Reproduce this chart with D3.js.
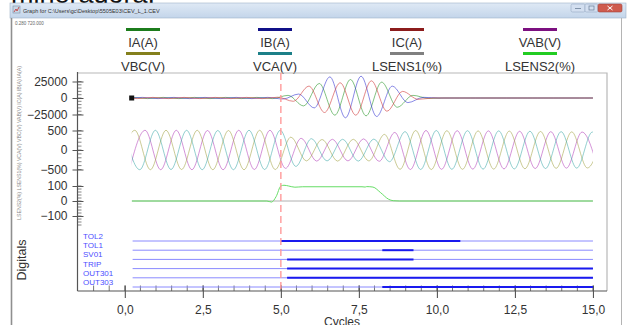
<!DOCTYPE html>
<html><head><meta charset="utf-8">
<script src="https://cdn.jsdelivr.net/npm/d3@7"></script>
<style>body{margin:0;background:#fff;overflow:hidden}svg{display:block;font-family:"Liberation Sans",Arial,sans-serif}</style>
</head><body><svg id="c" width="628" height="325"></svg>
<script>
// ---------------- data ----------------
const legendLabels = ["IA(A)", "IB(A)", "IC(A)", "VAB(V)", "VBC(V)", "VCA(V)", "LSENS1(%)", "LSENS2(%)"];
const xTickValues = [0, 2.5, 5, 7.5, 10, 12.5, 15];
const currentTicks = [25000, 0, -25000];
const voltageTicks = [500, 0, -500];
const sensTicks = [100, 0, -100];
const eventTime = 5.0;
const recordStart = 0.22;
const recordEnd = 15;
const halfCycle = 0.5;

// currents: successive half-cycle extremum values (A), first one at the start time
const iaStart = -0.27;
const ia = [-900, 900, -900, 900, -900, 900, -900, 900, -900, 900, -900,
  4000, -12000, 22000, -26000, 28000, -27000, 24000, -14000, 4000, -500,
  0, 0, 0, 0, 0, 0, 0, 0, 0, 0, 0];
const ibStart = 0.07;
const ib = [-900, 900, -900, 900, -900, 900, -900, 900, -900, 900,
  -1500, 6000, -15000, 32000, -30000, 33000, -28000, 18000, -7000, 1000,
  0, 0, 0, 0, 0, 0, 0, 0, 0, 0, 0, 0];
const icStart = -0.1;
const ic = [900, -900, 900, -900, 900, -900, 900, -900, 900, -900,
  1200, -5000, 18000, -22000, 23000, -26000, 26000, -20000, 10000, -2000,
  0, 0, 0, 0, 0, 0, 0, 0, 0, 0, 0, 0];

// voltages: successive half-cycle extremum values (V)
const vabStart = 0.15;
const vab = [-500, 505, -505, 505, -505, 500, -505, 505, -500, 505,
  -470, 300, -285, 275, -280, 285, -290, 450, -500, 500, -495, 495,
  -490, 490, -485, 480, -475, 470, -465, 460, -455];
const vbcStart = -0.18;
const vbc = [-500, 505, -505, 505, -500, 505, -505, 500, -505, 505, -500,
  330, -280, 270, -285, 275, -280, 400, -495, 500, -500, 495, -495,
  490, -490, 485, -480, 475, -470, 465, -460, 455];
const vcaStart = -0.02;
const vca = [505, -505, 505, -500, 505, -505, 500, -505, 505, -500, 505,
  -420, 290, -280, 275, -285, 280, -300, 470, -500, 500, -495, 495,
  -490, 490, -485, 480, -475, 470, -465, 460, -455];

// sensitivities (%)
const lsens1T = [0.22, 15];
const lsens1V = [0, 0];
const lsens2T = [0.22, 4.55, 4.7, 4.85, 5.0, 5.1, 5.25, 5.45, 5.7, 7.6, 7.7, 7.75, 7.95, 8.2, 8.45, 8.6, 8.8, 15];
const lsens2V = [0, 0, -7, 30, 100, 105, 100, 92, 95, 95, 93, 96, 93, 55, 12, 2, 0, 0];

// digitals: active intervals in cycles
const digitalNames = ["TOL2", "TOL1", "SV01", "TRIP", "OUT301", "OUT303"];
const digitalOn = [[[5.0, 10.75]], [[8.25, 9.25]], [[5.2, 9.25]], [[5.2, 15]], [[5.2, 15]], [[8.25, 15]]];

// ---------------- styles ----------------
const legendColors = ["#1c7c1c", "#101088", "#8c1c1c", "#7c1080", "#84801c", "#1c8088", "#808080", "#22cc22"];
const traceColors = {IA: "#2e9a2e", IB: "#2a2ad0", IC: "#d03a3a", VAB: "#b03cb8", VBC: "#a0a040", VCA: "#3aa8a8", L1: "#b0b0b0", L2: "#66dd66"};

// ---------------- drawing ----------------
const svg = d3.select("#c");
const pL = 77.5, pR = 607, pT = 73, pB = 291;
const x = d3.scaleLinear().domain([-1.5, 15.45]).range([pL + 0.5, pR]);
const yI = d3.scaleLinear().domain([-25000, 25000]).range([114.5, 81.5]);
const yV = d3.scaleLinear().domain([-500, 500]).range([169.5, 130.5]);
const yL = d3.scaleLinear().domain([-100, 100]).range([216, 186]);
const yD = d3.scalePoint().domain(digitalNames).range([241, 287]);

// page title remnant
svg.append("text").attr("x", 11).attr("y", 3).attr("font-size", 27).attr("fill", "#111").text("mineradora.");

// window chrome
const defs = svg.append("defs");
const g1 = defs.append("linearGradient").attr("id", "tb").attr("x1", 0).attr("y1", 0).attr("x2", 0).attr("y2", 1);
g1.append("stop").attr("offset", 0).attr("stop-color", "#dfe9f5");
g1.append("stop").attr("offset", 1).attr("stop-color", "#c3d5ea");
svg.append("rect").attr("x", 10).attr("y", 3).attr("width", 616).attr("height", 15).attr("fill", "url(#tb)").attr("stroke", "#9fb2c8").attr("stroke-width", 0.6);
svg.append("rect").attr("x", 13).attr("y", 6).attr("width", 7).attr("height", 7).attr("fill", "#c9d7e6").attr("stroke", "#7890a8").attr("stroke-width", 0.6);
svg.append("path").attr("d", "M14,12 L16,9 L17,11 L19,7").attr("fill", "none").attr("stroke", "#c03030").attr("stroke-width", 0.8);
svg.append("text").attr("x", 23).attr("y", 12.5).attr("font-size", 5.5).attr("fill", "#333").text("Graph for C:\\Users\\gc\\Desktop\\5505E03\\CEV_L_1.CEV");
svg.append("rect").attr("x", 571).attr("y", 4).attr("width", 14).attr("height", 8).attr("rx", 1.5).attr("fill", "#d3dff0").attr("stroke", "#95a9c2").attr("stroke-width", 0.6);
svg.append("rect").attr("x", 585).attr("y", 4).attr("width", 13).attr("height", 8).attr("rx", 1.5).attr("fill", "#d3dff0").attr("stroke", "#95a9c2").attr("stroke-width", 0.6);
svg.append("rect").attr("x", 598).attr("y", 4).attr("width", 24).attr("height", 8).attr("rx", 1.5).attr("fill", "#cf5b4e").attr("stroke", "#a0453c").attr("stroke-width", 0.6);
svg.append("path").attr("d", "M575,8.5h6").attr("stroke", "#6c7f98").attr("stroke-width", 0.8);
svg.append("rect").attr("x", 589).attr("y", 6).attr("width", 5).attr("height", 4).attr("fill", "none").attr("stroke", "#6c7f98").attr("stroke-width", 0.7);
svg.append("path").attr("d", "M607.5,6l5,4M612.5,6l-5,4").attr("stroke", "#fff").attr("stroke-width", 1);
svg.append("line").attr("x1", 11.5).attr("x2", 11.5).attr("y1", 18).attr("y2", 325).attr("stroke", "#8f8f8f").attr("stroke-width", 1.6);
svg.append("line").attr("x1", 621.5).attr("x2", 621.5).attr("y1", 18).attr("y2", 325).attr("stroke", "#b4b4b4").attr("stroke-width", 1);
svg.append("text").attr("x", 15).attr("y", 25).attr("font-size", 4.5).attr("fill", "#666").text("0.280  720.000");

// legend
const legCols = [143, 275, 407, 540];
legendLabels.forEach((lab, i) => {
  const cx = legCols[i % 4], row = Math.floor(i / 4);
  svg.append("rect").attr("x", cx - 17).attr("y", 28 + row * 24).attr("width", 34).attr("height", 3).attr("fill", legendColors[i]);
  svg.append("text").attr("x", cx).attr("y", 47 + row * 24).attr("text-anchor", "middle").attr("font-size", 13).attr("fill", "#333").text(lab);
});

// frame
svg.append("path").attr("d", `M${pL},${pT}H${pR}V${pB}`).attr("fill", "none").attr("stroke", "#b8b8b8").attr("stroke-width", 1.2);

// rotated axis titles
svg.append("text").attr("transform", "translate(21,143) rotate(-90)").attr("text-anchor", "middle").attr("font-size", 5.2).attr("fill", "#888")
  .text(legendLabels.slice().reverse().join(" "));
svg.append("text").attr("transform", "translate(26,260) rotate(-90)").attr("text-anchor", "middle").attr("font-size", 12.5).attr("fill", "#333").text("Digitals");

// y axes with minor ticks
function yAxisPanel(scale, ticks, minorStep, minorLo, minorHi) {
  const minor = d3.range(minorLo, minorHi + minorStep / 2, minorStep);
  const gm = svg.append("g").attr("transform", `translate(${pL},0)`);
  gm.selectAll("line").data(minor).join("line").attr("x1", 0).attr("x2", 4).attr("y1", d => scale(d)).attr("y2", d => scale(d)).attr("stroke", "#666").attr("stroke-width", 0.8);
  const g = svg.append("g").attr("transform", `translate(${pL},0)`)
    .call(d3.axisLeft(scale).tickValues(ticks).tickSize(5).tickPadding(5).tickFormat(d3.format("d")));
  g.select(".domain").remove();
  g.selectAll(".tick line").attr("x1", 6).attr("stroke", "#555");
  g.selectAll(".tick text").attr("font-size", 12).attr("fill", "#333").attr("font-family", "Liberation Sans, Arial, sans-serif");
}
yAxisPanel(yI, currentTicks, 5000, -25000, 25000);
yAxisPanel(yV, voltageTicks, 100, -500, 500);
yAxisPanel(yL, sensTicks, 20, -160, 100);

// left axis line
svg.append("line").attr("x1", pL).attr("x2", pL).attr("y1", pT - 1).attr("y2", pB).attr("stroke", "#555").attr("stroke-width", 1.2);

// x axis
const minorX = d3.range(-1, 15.01, 0.5);
svg.append("g").selectAll("line").data(minorX).join("line")
  .attr("x1", d => x(d)).attr("x2", d => x(d)).attr("y1", pB - 5.5).attr("y2", pB).attr("stroke", "#666").attr("stroke-width", 0.9);
const gx = svg.append("g").attr("transform", `translate(0,${pB})`)
  .call(d3.axisBottom(x).tickValues(xTickValues).tickSize(7).tickPadding(7).tickFormat(d => d.toFixed(1).replace(".", ",")));
gx.select(".domain").attr("d", `M${pL},0H${pR}`).attr("stroke", "#555").attr("stroke-width", 1.2);
gx.selectAll(".tick line").attr("y1", -5.5).attr("stroke", "#555").attr("stroke-width", 1.1);
gx.selectAll(".tick text").attr("font-size", 12).attr("fill", "#333").attr("font-family", "Liberation Sans, Arial, sans-serif");
svg.append("text").attr("x", 342).attr("y", 326).attr("text-anchor", "middle").attr("font-size", 12).attr("fill", "#333").text("Cycles");

// clip for traces
defs.append("clipPath").attr("id", "rec").append("rect")
  .attr("x", x(recordStart)).attr("y", pT).attr("width", x(recordEnd) - x(recordStart)).attr("height", pB - pT);
const traces = svg.append("g").attr("clip-path", "url(#rec)");

function wave(start, vals) { return vals.map((v, i) => [start + i * halfCycle, v]); }
function draw(pts, scale, color, op) {
  traces.append("path").datum(pts)
    .attr("d", d3.line().x(d => x(d[0])).y(d => scale(d[1])).curve(d3.curveMonotoneX))
    .attr("fill", "none").attr("stroke", color).attr("stroke-width", 1).attr("stroke-opacity", op);
}
// voltages
draw(wave(vabStart, vab), yV, traceColors.VAB, 0.55);
draw(wave(vbcStart, vbc), yV, traceColors.VBC, 0.55);
draw(wave(vcaStart, vca), yV, traceColors.VCA, 0.55);
// currents
draw(wave(iaStart, ia), yI, traceColors.IA, 0.6);
draw(wave(ibStart, ib), yI, traceColors.IB, 0.55);
draw(wave(icStart, ic), yI, traceColors.IC, 0.6);
// sensitivities
draw(d3.zip(lsens1T, lsens1V), yL, traceColors.L1, 1);
draw(d3.zip(lsens2T, lsens2V), yL, traceColors.L2, 1);

// record start marker
svg.append("rect").attr("x", x(recordStart) - 2.5).attr("y", yI(0) - 2.5).attr("width", 5).attr("height", 5).attr("fill", "#111");

// digitals
const dg = svg.append("g");
digitalNames.forEach((n, i) => {
  const y = yD(n);
  dg.append("text").attr("x", 83).attr("y", y - 2).attr("font-size", 8).attr("fill", "#4d4dff").text(n);
  dg.append("line").attr("x1", x(0.25)).attr("x2", x(recordEnd)).attr("y1", y).attr("y2", y).attr("stroke", "#8a8aff").attr("stroke-width", 1);
  digitalOn[i].forEach(([a, b]) => {
    dg.append("line").attr("x1", x(a)).attr("x2", x(b)).attr("y1", y).attr("y2", y).attr("stroke", "#1a1aee").attr("stroke-width", 2);
  });
});

// event cursor
svg.append("line").attr("x1", x(eventTime)).attr("x2", x(eventTime)).attr("y1", pT).attr("y2", pB)
  .attr("stroke", "#ff9a9a").attr("stroke-width", 1.4).attr("stroke-dasharray", "7,4");
</script></body></html>
